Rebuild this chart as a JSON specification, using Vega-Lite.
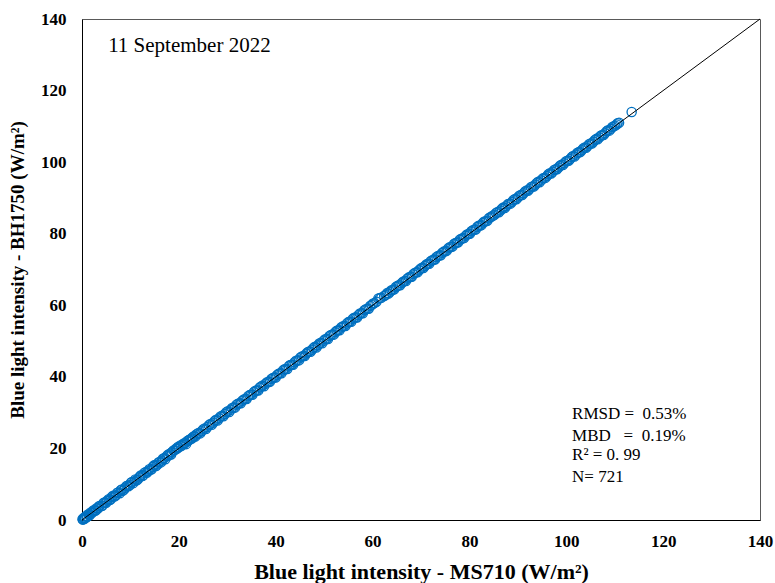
{
  "$schema": "https://vega.github.io/schema/vega-lite/v6.json",
  "width": 678,
  "height": 501,
  "autosize": {"type": "none"},
  "padding": {"left": 82, "top": 19, "right": 15, "bottom": 63},
  "background": "white",
  "config": {
    "view": {"stroke": "#595959", "strokeWidth": 1},
    "font": "Liberation Serif",
    "axis": {
      "domainColor": "#000000",
      "domainWidth": 1,
      "ticks": false,
      "grid": false,
      "labelFlush": false,
      "labelFont": "Liberation Serif",
      "labelFontWeight": "bold",
      "labelFontSize": 17,
      "labelColor": "#000000",
      "titleFont": "Liberation Serif",
      "titleFontWeight": "bold",
      "titleColor": "#000000"
    }
  },
  "datasets": {
    "pts": [
      {"x":0.1,"y":0.2},{"x":0.2,"y":0.1},{"x":0.3,"y":0.5},{"x":0.4,"y":0.3},{"x":0.5,"y":0.7},{"x":0.7,"y":0.6},{"x":0.9,"y":1.2},{"x":1.1,"y":1.0},{"x":1.3,"y":1.6},{"x":1.5,"y":1.4},
      {"x":1.8,"y":2.1},{"x":2.1,"y":2.0},{"x":2.4,"y":2.7},{"x":2.7,"y":2.6},{"x":3.0,"y":3.3},{"x":3.3,"y":3.2},{"x":3.6,"y":3.9},{"x":4.0,"y":3.9},{"x":4.4,"y":4.7},{"x":4.8,"y":4.8},
      {"x":5.2,"y":5.4},{"x":5.7,"y":5.6},{"x":6.1,"y":6.4},{"x":6.6,"y":6.6},{"x":7.0,"y":6.9},{"x":7.5,"y":7.7},{"x":8.0,"y":8.3},{"x":8.4,"y":8.2},{"x":8.9,"y":9.0},{"x":9.4,"y":9.6},
      {"x":9.9,"y":9.8},{"x":10.3,"y":10.6},{"x":10.8,"y":10.8},{"x":11.3,"y":11.1},{"x":11.8,"y":11.9},{"x":12.2,"y":12.5},{"x":12.7,"y":12.6},{"x":13.2,"y":13.4},{"x":13.7,"y":13.7},{"x":14.1,"y":14.0},
      {"x":14.6,"y":14.8},{"x":15.1,"y":15.4},{"x":15.6,"y":15.5},{"x":16.0,"y":16.2},{"x":16.5,"y":16.6},{"x":17.0,"y":17.3},{"x":17.5,"y":17.8},{"x":17.9,"y":18.0},{"x":18.4,"y":18.3},{"x":18.9,"y":19.4},
      {"x":19.4,"y":19.9},{"x":19.8,"y":20.4},{"x":20.3,"y":20.8},{"x":20.8,"y":21.1},{"x":21.3,"y":21.5},{"x":21.7,"y":22.0},{"x":22.2,"y":22.4},{"x":22.7,"y":22.8},{"x":23.2,"y":23.5},{"x":23.6,"y":23.9},
      {"x":24.1,"y":24.3},{"x":24.7,"y":24.8},{"x":25.3,"y":25.6},{"x":25.9,"y":26.0},{"x":26.5,"y":26.8},{"x":27.1,"y":27.2},{"x":27.7,"y":28.0},{"x":28.3,"y":28.4},{"x":28.9,"y":29.1},{"x":29.5,"y":29.6},
      {"x":30.1,"y":30.4},{"x":30.7,"y":30.8},{"x":31.3,"y":31.4},{"x":31.9,"y":32.2},{"x":32.5,"y":32.6},{"x":33.1,"y":33.3},{"x":33.7,"y":33.8},{"x":34.3,"y":34.6},{"x":34.9,"y":35.0},{"x":35.5,"y":35.8},
      {"x":36.1,"y":36.2},{"x":36.7,"y":37.0},{"x":37.3,"y":37.6},{"x":37.9,"y":38.1},{"x":38.5,"y":38.6},{"x":39.1,"y":39.4},{"x":39.7,"y":39.8},{"x":40.3,"y":40.5},{"x":40.9,"y":41.0},{"x":41.5,"y":41.8},
      {"x":42.1,"y":42.2},{"x":42.7,"y":43.0},{"x":43.3,"y":43.4},{"x":43.9,"y":44.1},{"x":44.5,"y":44.6},{"x":45.1,"y":45.4},{"x":45.7,"y":45.8},{"x":46.3,"y":46.5},{"x":46.9,"y":47.1},{"x":47.5,"y":47.6},
      {"x":48.1,"y":48.4},{"x":48.7,"y":48.8},{"x":49.3,"y":49.5},{"x":49.9,"y":50.1},{"x":50.5,"y":50.6},{"x":51.1,"y":51.4},{"x":51.7,"y":51.8},{"x":52.3,"y":52.5},{"x":52.9,"y":53.0},{"x":53.5,"y":53.8},
      {"x":54.1,"y":54.2},{"x":54.7,"y":54.9},{"x":55.3,"y":55.4},{"x":55.9,"y":56.2},{"x":56.5,"y":56.6},{"x":57.1,"y":57.3},{"x":57.7,"y":57.8},{"x":58.3,"y":58.6},{"x":58.9,"y":59.0},{"x":59.5,"y":59.8},
      {"x":60.1,"y":60.5},{"x":60.8,"y":61.0},{"x":61.5,"y":62.0},{"x":62.4,"y":62.6},{"x":63.0,"y":63.4},{"x":63.6,"y":63.8},{"x":64.2,"y":64.3},{"x":64.8,"y":65.1},{"x":65.4,"y":65.6},{"x":66.0,"y":66.2},
      {"x":66.6,"y":66.8},{"x":67.2,"y":67.5},{"x":67.8,"y":67.9},{"x":68.4,"y":68.7},{"x":69.0,"y":69.2},{"x":69.6,"y":69.8},{"x":70.2,"y":70.5},{"x":70.8,"y":71.0},{"x":71.4,"y":71.6},{"x":72.0,"y":72.3},
      {"x":72.6,"y":72.7},{"x":73.2,"y":73.5},{"x":73.8,"y":73.9},{"x":74.4,"y":74.7},{"x":75.0,"y":75.1},{"x":75.6,"y":75.9},{"x":76.2,"y":76.3},{"x":76.8,"y":77.1},{"x":77.4,"y":77.5},{"x":78.0,"y":78.3},
      {"x":78.6,"y":78.7},{"x":79.2,"y":79.4},{"x":79.8,"y":79.9},{"x":80.4,"y":80.7},{"x":81.0,"y":81.1},{"x":81.6,"y":81.9},{"x":82.2,"y":82.3},{"x":82.8,"y":83.1},{"x":83.4,"y":83.5},{"x":84.0,"y":84.3},
      {"x":84.6,"y":84.8},{"x":85.2,"y":85.3},{"x":85.8,"y":86.1},{"x":86.4,"y":86.5},{"x":87.0,"y":87.3},{"x":87.6,"y":87.7},{"x":88.2,"y":88.4},{"x":88.8,"y":88.9},{"x":89.4,"y":89.7},{"x":90.0,"y":90.1},
      {"x":90.6,"y":90.8},{"x":91.2,"y":91.3},{"x":91.8,"y":92.1},{"x":92.4,"y":92.5},{"x":93.0,"y":93.2},{"x":93.6,"y":93.7},{"x":94.2,"y":94.5},{"x":94.8,"y":94.9},{"x":95.4,"y":95.6},{"x":96.0,"y":96.1},
      {"x":96.6,"y":96.9},{"x":97.2,"y":97.3},{"x":97.8,"y":98.0},{"x":98.4,"y":98.5},{"x":99.0,"y":99.3},{"x":99.6,"y":99.7},{"x":100.2,"y":100.4},{"x":100.8,"y":100.9},{"x":101.4,"y":101.7},{"x":102.0,"y":102.1},
      {"x":102.6,"y":102.8},{"x":103.2,"y":103.3},{"x":103.8,"y":104.1},{"x":104.4,"y":104.5},{"x":105.0,"y":105.2},{"x":105.6,"y":105.7},{"x":106.2,"y":106.5},{"x":106.8,"y":106.9},{"x":107.4,"y":107.6},{"x":108.0,"y":108.1},
      {"x":108.6,"y":108.9},{"x":109.2,"y":109.3},{"x":109.8,"y":110.0},{"x":110.4,"y":110.5},{"x":110.9,"y":111.0},{"x":113.5,"y":114.0},
      {"x":0.6,"y":0.4},{"x":1.0,"y":0.8},{"x":1.6,"y":1.3},{"x":2.2,"y":2.4},{"x":2.9,"y":2.7},{"x":3.5,"y":3.8},{"x":4.2,"y":4.0},{"x":4.6,"y":4.9},{"x":5.0,"y":4.8},{"x":5.5,"y":5.8},
      {"x":5.9,"y":5.7},{"x":6.4,"y":6.8},{"x":6.8,"y":6.6},{"x":7.3,"y":7.6},{"x":7.8,"y":7.5},{"x":8.2,"y":8.5},{"x":8.7,"y":8.5},{"x":9.2,"y":9.5},{"x":9.6,"y":9.4},{"x":10.1,"y":10.4},
      {"x":10.6,"y":10.3},{"x":11.0,"y":11.3},{"x":11.5,"y":11.3},{"x":12.0,"y":12.2},{"x":12.5,"y":12.3},{"x":12.9,"y":13.2},{"x":13.4,"y":13.2},{"x":13.9,"y":14.2},{"x":14.4,"y":14.2},{"x":14.8,"y":15.2},
      {"x":15.3,"y":15.1},{"x":15.8,"y":16.1},{"x":16.3,"y":16.1},{"x":16.7,"y":17.1},{"x":17.2,"y":17.0},{"x":17.7,"y":18.2},{"x":18.2,"y":18.6},{"x":18.6,"y":19.0},{"x":19.1,"y":19.5},{"x":19.6,"y":19.9},
      {"x":20.0,"y":20.3},{"x":20.5,"y":20.7},{"x":21.0,"y":21.4},{"x":21.5,"y":21.2},{"x":22.0,"y":22.3},{"x":22.4,"y":22.6},{"x":22.9,"y":23.2},{"x":23.4,"y":23.3},{"x":23.9,"y":24.2},{"x":24.4,"y":24.2},
      {"x":25.0,"y":25.3},{"x":25.6,"y":25.4},{"x":26.2,"y":26.5},{"x":26.8,"y":26.6},{"x":27.4,"y":27.7},{"x":28.0,"y":27.8},{"x":28.6,"y":28.9},{"x":29.2,"y":29.0},{"x":29.8,"y":30.1},{"x":30.4,"y":30.2},
      {"x":31.0,"y":31.3},{"x":31.6,"y":31.4},{"x":32.2,"y":32.5},{"x":32.8,"y":32.6},{"x":33.4,"y":33.7},{"x":34.0,"y":33.8},{"x":34.6,"y":34.9},{"x":35.2,"y":35.0},{"x":35.8,"y":36.1},{"x":36.4,"y":36.2},
      {"x":37.0,"y":37.3},{"x":37.6,"y":37.4},{"x":38.2,"y":38.5},{"x":38.8,"y":38.6},{"x":39.4,"y":39.7},{"x":40.0,"y":39.8},{"x":40.6,"y":40.9},{"x":41.2,"y":41.0},{"x":41.8,"y":42.1},{"x":42.4,"y":42.2},
      {"x":43.0,"y":43.3},{"x":43.6,"y":43.4},{"x":44.2,"y":44.5},{"x":44.8,"y":44.6},{"x":45.4,"y":45.7},{"x":46.0,"y":45.8},{"x":46.6,"y":46.9},{"x":47.2,"y":47.0},{"x":47.8,"y":48.1},{"x":48.4,"y":48.2},
      {"x":49.0,"y":49.3},{"x":49.6,"y":49.4},{"x":50.2,"y":50.5},{"x":50.8,"y":50.6},{"x":51.4,"y":51.7},{"x":52.0,"y":51.8},{"x":52.6,"y":52.9},{"x":53.2,"y":53.0},{"x":53.8,"y":54.1},{"x":54.4,"y":54.2},
      {"x":55.0,"y":55.3},{"x":55.6,"y":55.4},{"x":56.2,"y":56.5},{"x":56.8,"y":56.6},{"x":57.4,"y":57.7},{"x":58.0,"y":57.8},{"x":58.6,"y":58.9},{"x":59.2,"y":59.0},{"x":59.8,"y":60.1},{"x":60.4,"y":60.6},
      {"x":61.2,"y":61.9},{"x":61.8,"y":62.1},{"x":62.7,"y":62.9},{"x":63.3,"y":63.3},{"x":63.9,"y":64.2},{"x":64.5,"y":64.5},{"x":65.1,"y":65.4},{"x":65.7,"y":65.6},{"x":66.3,"y":66.6},{"x":66.9,"y":66.8},
      {"x":67.5,"y":67.8},{"x":68.1,"y":68.0},{"x":68.7,"y":69.0},{"x":69.3,"y":69.2},{"x":69.9,"y":70.2},{"x":70.5,"y":70.4},{"x":71.1,"y":71.4},{"x":71.7,"y":71.6},{"x":72.3,"y":72.6},{"x":72.9,"y":72.8},
      {"x":73.5,"y":73.8},{"x":74.1,"y":74.0},{"x":74.7,"y":75.0},{"x":75.3,"y":75.2},{"x":75.9,"y":76.2},{"x":76.5,"y":76.4},{"x":77.1,"y":77.4},{"x":77.7,"y":77.6},{"x":78.3,"y":78.6},{"x":78.9,"y":78.8},
      {"x":79.5,"y":79.8},{"x":80.1,"y":80.0},{"x":80.7,"y":81.0},{"x":81.3,"y":81.2},{"x":81.9,"y":82.2},{"x":82.5,"y":82.4},{"x":83.1,"y":83.4},{"x":83.7,"y":83.6},{"x":84.3,"y":84.6},{"x":84.9,"y":85.1},
      {"x":85.5,"y":85.8},{"x":86.1,"y":86.0},{"x":86.7,"y":87.0},{"x":87.3,"y":87.2},{"x":87.9,"y":88.2},{"x":88.5,"y":88.4},{"x":89.1,"y":89.4},{"x":89.7,"y":89.6},{"x":90.3,"y":90.6},{"x":90.9,"y":90.8},
      {"x":91.5,"y":91.8},{"x":92.1,"y":92.0},{"x":92.7,"y":93.0},{"x":93.3,"y":93.2},{"x":93.9,"y":94.2},{"x":94.5,"y":94.4},{"x":95.1,"y":95.4},{"x":95.7,"y":95.6},{"x":96.3,"y":96.6},{"x":96.9,"y":96.8},
      {"x":97.5,"y":97.8},{"x":98.1,"y":98.0},{"x":98.7,"y":99.0},{"x":99.3,"y":99.2},{"x":99.9,"y":100.2},{"x":100.5,"y":100.4},{"x":101.1,"y":101.4},{"x":101.7,"y":101.6},{"x":102.3,"y":102.6},{"x":102.9,"y":102.8},
      {"x":103.5,"y":103.8},{"x":104.1,"y":104.0},{"x":104.7,"y":105.0},{"x":105.3,"y":105.2},{"x":105.9,"y":106.2},{"x":106.5,"y":106.4},{"x":107.1,"y":107.4},{"x":107.7,"y":107.6},{"x":108.3,"y":108.6},{"x":108.9,"y":108.8},
      {"x":109.5,"y":109.8},{"x":110.1,"y":110.2},{"x":110.6,"y":110.9}
    ],
    "one": [{}]
  },
  "layer": [
    {
      "data": {"name": "pts"},
      "mark": {"type": "point", "shape": "circle", "filled": false, "stroke": "#0070C0", "strokeWidth": 1.3, "size": 85, "opacity": 1},
      "encoding": {
        "x": {
          "field": "x", "type": "quantitative",
          "scale": {"domain": [0, 140], "nice": false, "zero": true},
          "axis": {"values": [0, 20, 40, 60, 80, 100, 120, 140], "labelFlush": false, "labelFont": "Liberation Serif", "labelPadding": 13, "titleFont": "Liberation Serif", "titleFontSize": 22, "titlePadding": 12,
                   "title": "Blue light intensity - MS710 (W/m²)"}
        },
        "y": {
          "field": "y", "type": "quantitative",
          "scale": {"domain": [0, 140], "nice": false, "zero": true},
          "axis": {"values": [0, 20, 40, 60, 80, 100, 120, 140], "labelFlush": false, "labelFont": "Liberation Serif", "labelPadding": 16, "titleFont": "Liberation Serif", "titleFontSize": 19, "titlePadding": 13,
                   "title": "Blue light intensity - BH1750  (W/m²)"}
        }
      }
    },
    {
      "data": {"name": "one"},
      "mark": {"type": "rule", "color": "#000000", "strokeWidth": 1},
      "encoding": {
        "x": {"datum": 0, "type": "quantitative"},
        "y": {"datum": 0, "type": "quantitative"},
        "x2": {"datum": 140},
        "y2": {"datum": 140}
      }
    },
    {
      "data": {"name": "one"},
      "mark": {"type": "text", "font": "Liberation Serif", "fontSize": 21, "align": "left", "baseline": "alphabetic", "color": "#000000"},
      "encoding": {"x": {"datum": 5.4, "type": "quantitative"}, "y": {"datum": 130.8, "type": "quantitative"}, "text": {"value": "11 September 2022"}}
    },
    {
      "data": {"name": "one"},
      "mark": {"type": "text", "font": "Liberation Serif", "fontSize": 17, "align": "left", "baseline": "alphabetic", "color": "#000000"},
      "encoding": {"x": {"datum": 101.2, "type": "quantitative"}, "y": {"datum": 28.2, "type": "quantitative"}, "text": {"value": "RMSD =\u00a0 0.53%"}}
    },
    {
      "data": {"name": "one"},
      "mark": {"type": "text", "font": "Liberation Serif", "fontSize": 17, "align": "left", "baseline": "alphabetic", "color": "#000000"},
      "encoding": {"x": {"datum": 101.2, "type": "quantitative"}, "y": {"datum": 22.1, "type": "quantitative"}, "text": {"value": "MBD\u00a0\u00a0 =\u00a0 0.19%"}}
    },
    {
      "data": {"name": "one"},
      "mark": {"type": "text", "font": "Liberation Serif", "fontSize": 17, "align": "left", "baseline": "alphabetic", "color": "#000000"},
      "encoding": {"x": {"datum": 101.2, "type": "quantitative"}, "y": {"datum": 16.8, "type": "quantitative"}, "text": {"value": "R² = 0. 99"}}
    },
    {
      "data": {"name": "one"},
      "mark": {"type": "text", "font": "Liberation Serif", "fontSize": 17, "align": "left", "baseline": "alphabetic", "color": "#000000"},
      "encoding": {"x": {"datum": 101.2, "type": "quantitative"}, "y": {"datum": 10.6, "type": "quantitative"}, "text": {"value": "N= 721"}}
    }
  ]
}
